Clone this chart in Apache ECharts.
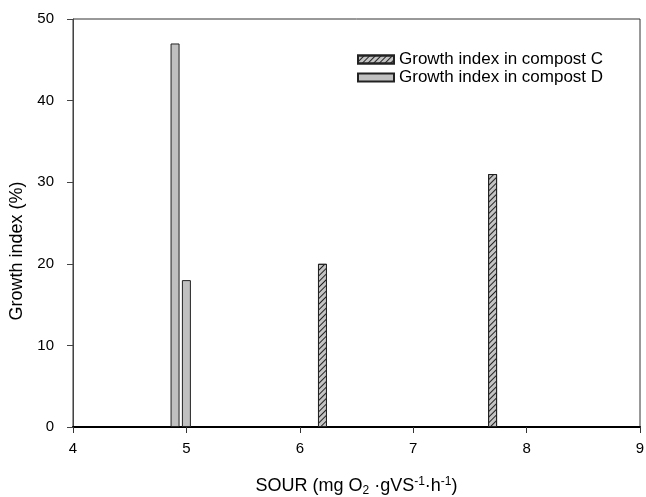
<!DOCTYPE html>
<html>
<head>
<meta charset="utf-8">
<script src="https://cdn.jsdelivr.net/npm/echarts@6/dist/echarts.min.js"></script>
<style>html,body{margin:0;padding:0;background:#fff}#c{width:646px;height:497px}</style>
</head>
<body>
<div id="c"></div>
<script>
var seriesNames = ['Growth index in compost C', 'Growth index in compost D'];
var sourC = [6.2, 7.7];
var growthC = [20, 31];
var sourD = [4.9, 5.0];
var growthD = [47, 18];
var xTicks = [4, 5, 6, 7, 8, 9];
var yTicks = [0, 10, 20, 30, 40, 50];

function pairs(xs, ys) { return xs.map(function (x, i) { return [x, ys[i]]; }); }

var font = 'Liberation Sans, Arial, sans-serif';
var hatch = {symbol: 'rect', symbolSize: 1, dashArrayX: [1, 0], dashArrayY: [1, 3], rotation: -Math.PI / 4, color: '#222'};
var chart = echarts.init(document.getElementById('c'), null, {renderer: 'canvas'});
chart.setOption({
  animation: false,
  backgroundColor: '#fff',
  textStyle: {fontFamily: font},
  grid: {left: 73, right: 6, top: 19, bottom: 70, show: true, borderColor: '#333', borderWidth: 1, containLabel: false, outerBoundsMode: 'none'},
  legend: {
    orient: 'vertical', left: 352, top: 46, itemWidth: 36, itemHeight: 8, itemGap: 1,
    icon: 'rect',
    textStyle: {fontSize: 17, color: '#000', fontFamily: font, lineHeight: 17},
    data: seriesNames
  },
  xAxis: {
    type: 'value', min: xTicks[0], max: xTicks[xTicks.length - 1], interval: 1,
    axisLine: {show: true, lineStyle: {color: '#000', width: 2}},
    axisTick: {show: true, inside: false, length: 6, lineStyle: {color: '#333'}},
    axisLabel: {fontSize: 15, color: '#000', margin: 14, fontFamily: font},
    splitLine: {show: false},
    name: '{a|SOUR (mg O}{sub|2}{a| ·gVS}{sup|-1}{a|·h}{sup|-1}{a|)}',
    nameLocation: 'middle', nameGap: 49,
    nameTextStyle: {
      fontFamily: font,
      rich: {
        a: {fontSize: 18, color: '#000', fontFamily: font},
        sub: {fontSize: 12, color: '#000', padding: [8, 0, 0, 0], fontFamily: font},
        sup: {fontSize: 12, color: '#000', padding: [0, 0, 9, 0], fontFamily: font}
      }
    }
  },
  yAxis: {
    type: 'value', min: yTicks[0], max: yTicks[yTicks.length - 1], interval: 10,
    axisLine: {show: true, lineStyle: {color: '#444', width: 1}},
    axisTick: {show: true, inside: false, length: 6, lineStyle: {color: '#444'}},
    axisLabel: {fontSize: 15, color: '#000', margin: 19, fontFamily: font},
    splitLine: {show: false},
    name: 'Growth index (%)', nameLocation: 'middle', nameGap: 44,
    nameTextStyle: {fontSize: 18, color: '#000', fontFamily: font, padding: [0, 56, 0, 0]}
  },
  series: [
    {
      name: seriesNames[0], type: 'bar', barWidth: 9, barGap: '-100%',
      data: pairs(sourC, growthC),
      itemStyle: {color: '#c4c4c4', borderColor: '#222', borderWidth: 1, decal: hatch}
    },
    {
      name: seriesNames[1], type: 'bar', barWidth: 9, barGap: '-100%',
      data: pairs(sourD, growthD),
      itemStyle: {color: '#c0c0c0', borderColor: '#222', borderWidth: 1}
    }
  ]
});
</script>
</body>
</html>
